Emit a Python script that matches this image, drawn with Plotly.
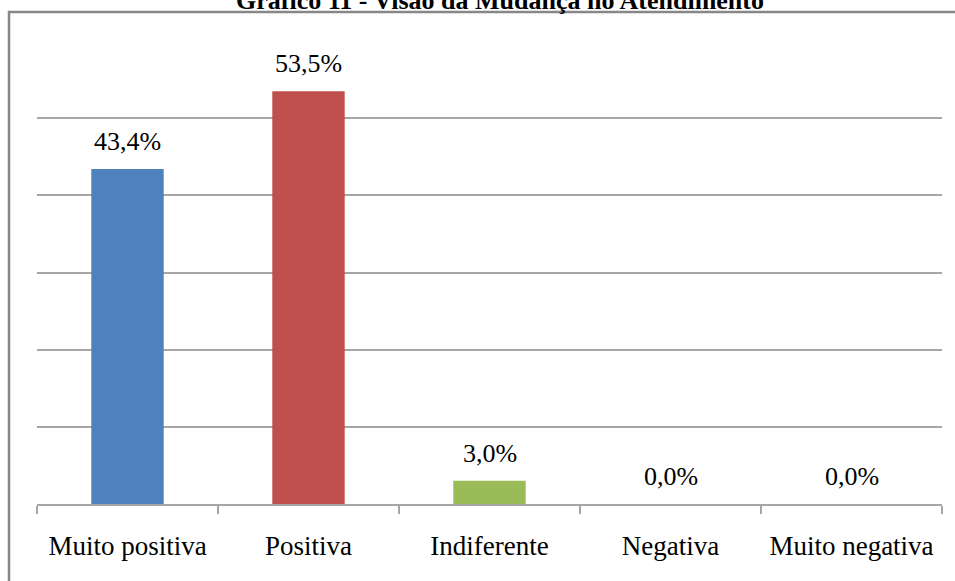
import plotly.graph_objects as go

# dados
categorias = ["Muito positiva", "Positiva", "Indiferente", "Negativa", "Muito negativa"]
percentuais = [43.4, 53.5, 3.0, 0.0, 0.0]
cores = ["#4F81BD", "#C0504D", "#9BBB59", "#8064A2", "#4BACC6"]
titulo = "Gráfico 11 - Visão da Mudança no Atendimento"

SERIF = "Liberation Serif, Times New Roman, serif"

W, H = 955, 581
ML, MR, MT, MB = 37, 13, 41, 77
PW, PH = W - ML - MR, H - MT - MB


def px_x(p):
    return (p - ML) / PW


def px_y(p):
    return (H - MB - p) / PH


fig = go.Figure()
fig.add_trace(
    go.Bar(
        x=categorias,
        y=percentuais,
        marker=dict(color=cores, line=dict(width=0)),
        width=0.4,
        showlegend=False,
    )
)

# rótulos de dados
for cat, val in zip(categorias, percentuais):
    fig.add_annotation(
        x=cat,
        y=val,
        text=f"{val:.1f}%".replace(".", ","),
        showarrow=False,
        yanchor="bottom",
        yshift=11,
        font=dict(family=SERIF, size=26, color="#000000"),
    )

# título (cortado no topo, como no original)
fig.add_annotation(
    x=px_x(500),
    y=px_y(1),
    xref="paper",
    yref="paper",
    text=f"<b>{titulo}</b>",
    showarrow=False,
    yanchor="middle",
    font=dict(family=SERIF, size=26, color="#000000"),
)

# moldura do gráfico
fig.add_shape(
    type="rect",
    xref="paper",
    yref="paper",
    x0=px_x(9),
    x1=px_x(970),
    y0=px_y(600),
    y1=px_y(12),
    line=dict(color="#878787", width=2.5),
    layer="above",
)

fig.update_layout(
    width=W,
    height=H,
    margin=dict(l=ML, r=MR, t=MT, b=MB),
    paper_bgcolor="white",
    plot_bgcolor="white",
    font=dict(family=SERIF, size=26, color="#000000"),
)
fig.update_xaxes(
    showline=True,
    linecolor="#A6A6A6",
    linewidth=1.5,
    ticks="outside",
    tickson="boundaries",
    ticklen=8,
    tickcolor="#A6A6A6",
    tickwidth=1.5,
    ticklabelstandoff=17,
    tickfont=dict(family=SERIF, size=27, color="#000000"),
)
fig.update_yaxes(
    range=[0, 60],
    dtick=10,
    showticklabels=False,
    showgrid=True,
    gridcolor="#A6A6A6",
    gridwidth=1.5,
    zeroline=False,
)

fig.write_html(
    "out.html",
    config={"displayModeBar": False},
    post_script="document.body.style.margin='0';",
)
